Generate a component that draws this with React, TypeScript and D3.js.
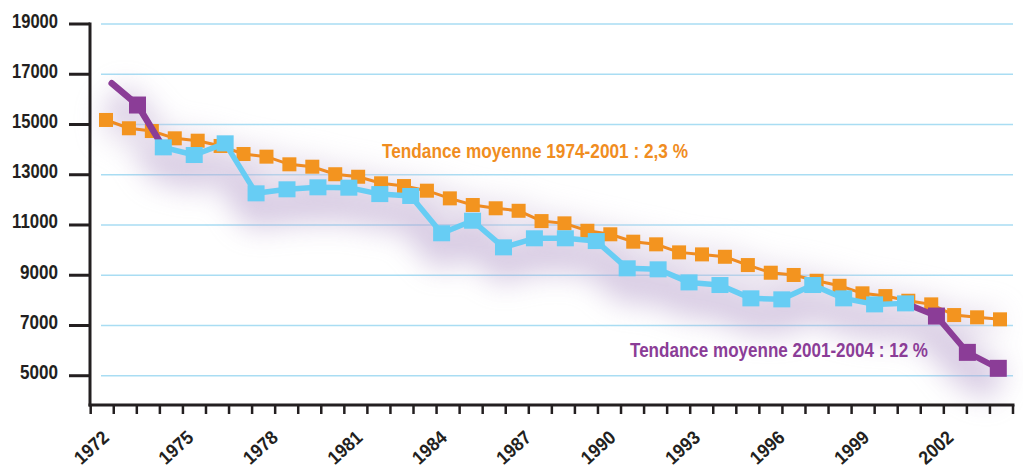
import * as d3 from "d3";

const yTickValues = [5000, 7000, 9000, 11000, 13000, 15000, 17000, 19000];
const yearLabels = [1972, 1975, 1978, 1981, 1984, 1987, 1990, 1993, 1996, 1999, 2002];

// orange: 40 squares, trend 1974-2001
const orangeValues = [
  15180, 14850, 14740, 14450, 14355, 14145, 13825, 13720, 13415, 13320,
  13020, 12920, 12660, 12550, 12365, 12060, 11795, 11665, 11565, 11155,
  11065, 10770, 10630, 10335, 10230, 9910, 9830, 9735, 9405, 9100,
  9010, 8780, 8580, 8280, 8170, 7985, 7840, 7415, 7325, 7245,
];
// purple start before the blue line
const purpleHead = [16640, 15775];
// blue series
const blueValues = [
  14090, 13785, 14250, 12260, 12420, 12500, 12485, 12230, 12155, 10670,
  11170, 10110, 10470, 10470, 10360, 9275, 9235, 8715, 8610, 8080,
  8040, 8610, 8080, 7840, 7880,
];
// purple end, trend 2001-2004
const purpleTail = [7375, 5930, 5295];

const W = 1023;
const H = 467;
const ORANGE = "#f3941f";
const BLUE = "#67cdf4";
const PURPLE = "#8b3d97";
const INK = "#231f20";
const FONT = "'Liberation Sans', Arial, sans-serif";

export default function App() {
  const y = d3.scaleLinear().domain([3835, 19000]).range([405, 24]);
  const xTick = d3.scaleLinear().domain([0, 40]).range([90.7, 1013]);
  const xYear = d3.scaleLinear().domain([1972, 2002]).range([91.5, 936]);

  const xOrange = d3.scalePoint<number>().domain(d3.range(orangeValues.length)).range([106, 1000]);
  const mainValues = [...blueValues, ...purpleTail];
  const xMain = d3.scalePoint<number>().domain(d3.range(mainValues.length)).range([163.3, 998.3]);
  const headValues = [...purpleHead, blueValues[0]];
  const xHead = d3.scalePoint<number>().domain(d3.range(headValues.length)).range([111.7, 163.3]);

  const line = d3.line<[number, number]>();
  const orangePts: [number, number][] = orangeValues.map((v, i) => [xOrange(i)!, y(v)]);
  const mainPts: [number, number][] = mainValues.map((v, i) => [xMain(i)!, y(v)]);
  const headPts: [number, number][] = headValues.map((v, i) => [xHead(i)!, y(v)]);
  const bluePts = mainPts.slice(0, blueValues.length);
  const tailPts = mainPts.slice(blueValues.length - 1);
  const shadowPts = [...headPts.slice(0, 2), ...mainPts];

  return (
    <svg width={W} height={H} style={{ position: "absolute", left: 0, top: 0, background: "#fff" }}>
      <defs>
        <filter id="haze" x="-20%" y="-50%" width="140%" height="200%">
          <feGaussianBlur stdDeviation="14" />
        </filter>
      </defs>

      {/* gridlines */}
      {yTickValues.map((v) => (
        <line key={"g" + v} x1={101} x2={1013} y1={y(v)} y2={y(v)} stroke="#a9ddf3" strokeWidth={1.6} />
      ))}

      {/* soft haze under the lines */}
      <g filter="url(#haze)" opacity={0.55}>
        <path d={line(shadowPts.map(([a, b]) => [a, b + 16]))!} fill="none" stroke="#b7a0cc" strokeWidth={38} strokeLinejoin="round" />
        <path d={line(orangePts.map(([a, b]) => [a, b + 4]))!} fill="none" stroke="#d5c8df" strokeWidth={24} strokeLinejoin="round" />
      </g>

      {/* y axis */}
      <line x1={90} x2={90} y1={22.5} y2={406.5} stroke={INK} strokeWidth={3} />
      {yTickValues.map((v) => (
        <g key={"t" + v}>
          <line x1={69} x2={90} y1={y(v)} y2={y(v)} stroke={INK} strokeWidth={3} />
          <text
            x={58}
            y={y(v) + 3.5}
            textAnchor="end"
            fontFamily={FONT}
            fontWeight="bold"
            fontSize={19.5}
            fill={INK}
            textLength={v >= 10000 ? 46 : 38}
            lengthAdjust="spacingAndGlyphs"
          >
            {v}
          </text>
        </g>
      ))}

      {/* x axis */}
      <line x1={88.5} x2={1014.5} y1={405} y2={405} stroke={INK} strokeWidth={3} />
      {d3.range(41).map((i) => (
        <line key={"x" + i} x1={xTick(i)} x2={xTick(i)} y1={405} y2={414} stroke={INK} strokeWidth={2.5} />
      ))}
      {yearLabels.map((yr) => (
        <text
          key={"l" + yr}
          transform={`translate(${xYear(yr)},447.5) rotate(-42)`}
          textAnchor="middle"
          dominantBaseline="central"
          fontFamily={FONT}
          fontWeight="bold"
          fontSize={19}
          fill={INK}
          textLength={39}
          lengthAdjust="spacingAndGlyphs"
        >
          {yr}
        </text>
      ))}

      {/* orange series */}
      <path d={line(orangePts)!} fill="none" stroke="#ef8b22" strokeWidth={3} />
      {orangePts.map(([cx, cy], i) => (
        <rect key={"o" + i} x={cx - 7} y={cy - 7} width={14} height={14} fill={ORANGE} />
      ))}

      {/* blue / purple series */}
      <path d={line(headPts)!} fill="none" stroke={PURPLE} strokeWidth={6.5} strokeLinecap="round" strokeLinejoin="round" />
      <path d={line(tailPts)!} fill="none" stroke={PURPLE} strokeWidth={6} strokeLinejoin="round" />
      <path d={line(bluePts)!} fill="none" stroke={BLUE} strokeWidth={5.5} strokeLinejoin="round" />
      <rect x={headPts[1][0] - 8.5} y={headPts[1][1] - 8.5} width={17} height={17} fill={PURPLE} />
      {bluePts.map(([cx, cy], i) => (
        <rect key={"b" + i} x={cx - 8.5} y={cy - 8} width={17} height={16} fill={BLUE} />
      ))}
      {tailPts.slice(1).map(([cx, cy], i) => (
        <rect key={"p" + i} x={cx - 8.5} y={cy - 8.5} width={17} height={17} fill={PURPLE} />
      ))}

      {/* annotations */}
      <text x={382} y={158} fontFamily={FONT} fontWeight="bold" fontSize={20.5} fill="#f08d1f" textLength={306} lengthAdjust="spacingAndGlyphs">
        Tendance moyenne 1974-2001 : 2,3 %
      </text>
      <text x={630} y={357} fontFamily={FONT} fontWeight="bold" fontSize={20.5} fill={PURPLE} textLength={298} lengthAdjust="spacingAndGlyphs">
        Tendance moyenne 2001-2004 : 12 %
      </text>
    </svg>
  );
}
